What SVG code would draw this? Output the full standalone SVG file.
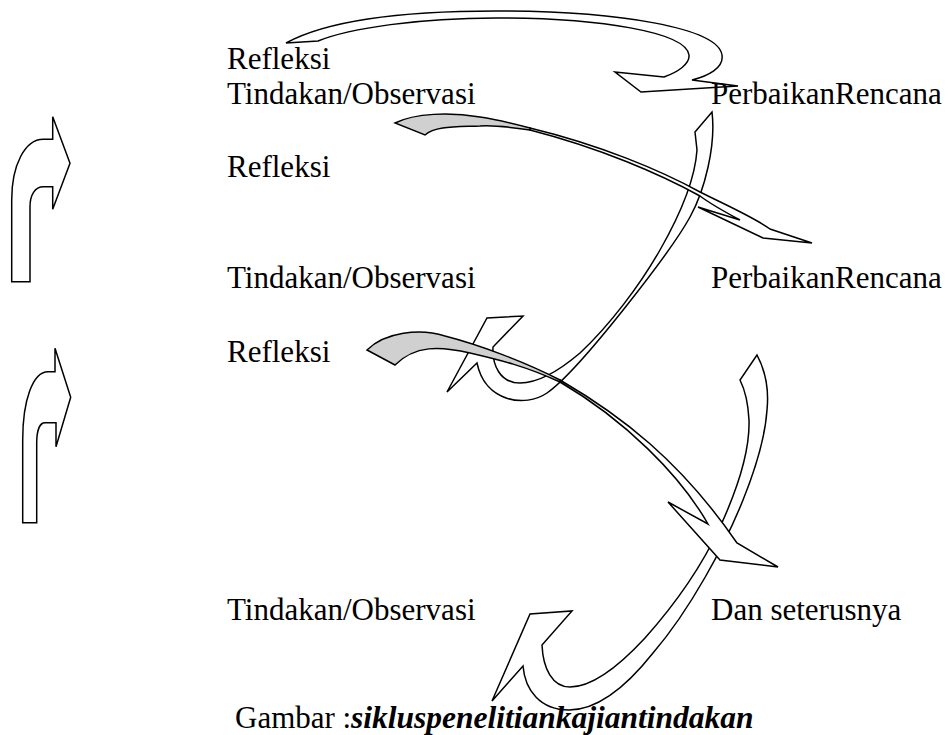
<svg xmlns="http://www.w3.org/2000/svg" width="950" height="735" viewBox="0 0 950 735">
<style>
.t{font-family:"Liberation Serif","Times New Roman",serif;font-size:31px;fill:#000}
.bi{font-family:"Liberation Serif","Times New Roman",serif;font-weight:bold;font-style:italic;font-size:31.5px;fill:#000}
.arr{fill:#fff;stroke:#000;stroke-width:1.5;stroke-linejoin:miter}
.gr{fill:#d0d0d0;stroke:#000;stroke-width:1.5}
</style>
<rect width="950" height="735" fill="#fff"/>
<g id="connectors">
  <path id="side-arrow-1" class="arr" d="M11.7,281.7 L11.7,200 C11.7,165 25,139.3 43.3,139.3 L52.7,139.3 L52.7,116.7 L70,163.3 L52.7,209.3 L52.7,186.7 L43.3,186.7 C35,186.7 30,195 30,206.7 L30,281.7 Z"/>
  <path id="side-arrow-2" class="arr" d="M22.7,522.7 L22.7,440 C22.7,400 33,371.7 48,371.7 L55,371.7 L55,348.3 L70.7,397.3 L56,446.7 L56,422.7 L45,422.7 C40,422.7 36.7,430 36.7,443.3 L36.7,522.7 Z"/>
  <path id="cycle-arrow-1" class="arr" d="M286,43 C330,19 410,11 496,11 C620,11 718,28 722,55 C724,68 708,76 692,80 L738,86 L641,92 L615,72 L664,77 C678,72 690,64 689,55 C686,32 600,18 496,18 C420,18 350,28 318,41 Z"/>
  <path id="cycle-arrow-2" class="arr" d="M712,112 C716,145 705,190 690,217 C672,250 580,370 547,393 C525,408 485,402 477,363 L447,392 L487,318 L523,316 L493,347 C492,365 500,383 520,383 C540,383 560,370 580,353 C610,325 640,285 660,250 C680,215 695,180 697,150 L695,132 Z"/>
  <path id="cycle-arrow-3" class="arr" d="M757,355 C765,370 769,390 767,410 C765,440 755,470 743,500 C725,545 690,610 653,653 C630,682 600,710 569,710 C540,710 525,690 523,666 L492,701 L530,614 L572,611 L542,645 C543,668 552,687 570,687 C592,687 620,665 645,638 C670,610 700,570 720,527 C738,488 750,450 749,420 C748,400 745,390 740,380 Z"/>
  <g id="gray-arrow-1">
    <path class="arr" d="M530,128 C600,145 660,170 700,192 C730,207 755,218 770,229 L812,243 L763,238 L698,207 L740,220 C725,212 712,205 700,196 C660,174 600,148 530,130 Z"/>
    <path class="gr" d="M395,123 C415,113 450,112 480,117 C500,120 515,124 530,128 L530,130 C510,127 495,125 480,126 C455,127 435,126 425,135 Z"/>
  </g>
  <g id="gray-arrow-2">
    <path class="arr" d="M560,380 C620,415 680,460 737,543 L778,567 L720,560 L668,502 L708,524 C680,475 625,420 560,382 Z"/>
    <path class="gr" d="M367,350 C385,332 420,328 445,336 C480,345 525,362 560,380 L560,382 C525,366 500,360 470,353 C440,346 415,345 395,365 Z"/>
  </g>
</g>
<g id="n-refleksi-1"><text class="t" x="227" y="69">Refleksi</text></g>
<g id="n-tindakan-1"><text class="t" x="227" y="104">Tindakan/Observasi</text></g>
<g id="n-perbaikan-1"><text class="t" x="711" y="104">PerbaikanRencana</text></g>
<g id="n-refleksi-2"><text class="t" x="227" y="177">Refleksi</text></g>
<g id="n-tindakan-2"><text class="t" x="227" y="288">Tindakan/Observasi</text></g>
<g id="n-perbaikan-2"><text class="t" x="711" y="288">PerbaikanRencana</text></g>
<g id="n-refleksi-3"><text class="t" x="227" y="362">Refleksi</text></g>
<g id="n-tindakan-3"><text class="t" x="227" y="620">Tindakan/Observasi</text></g>
<g id="n-dan"><text class="t" x="711" y="620">Dan seterusnya</text></g>
<g id="caption">
  <text class="t" x="235" y="728">Gambar :</text>
  <text class="bi" x="351" y="728">sikluspenelitiankajiantindakan</text>
</g>
</svg>
